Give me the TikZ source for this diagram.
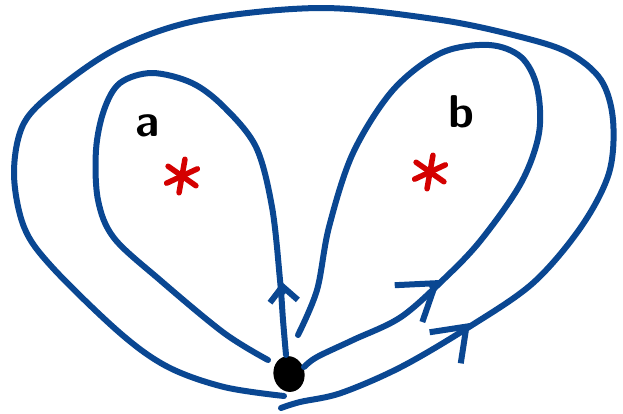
\documentclass[tikz,border=0pt]{standalone}
\usepackage{xcolor}
\usepackage{tikz}
\usetikzlibrary{arrows.meta,shapes.geometric}

\definecolor{loopblue}{HTML}{0A4792}
\definecolor{puncred}{HTML}{D40000}

\begin{document}
\begin{tikzpicture}[
  x=1pt, y=-1pt,
  loopline/.style={draw=loopblue, line width=6pt, line cap=round, line join=round},
  barb/.style n args={2}{loopline, -{Straight Barb[length=#1, width=#2]}},
  puncture/.style={inner sep=0pt, minimum size=2pt},
  letter/.style={font=\fontsize{46}{46}\selectfont\sffamily\bfseries, inner sep=0pt},
  basept/.style={ellipse, fill=black, inner sep=0pt, minimum width=31pt, minimum height=36pt, rotate=12}
]
  \useasboundingbox (0,0) rectangle (623,413);

  % Base point
  \node[basept] (o) at (289,374) {};

  % Punctures and their labels
  \node[puncture] (sa) at (182,176) {};
  \node[puncture] (sb) at (430,172) {};
  \node[letter] (la) at (148,126) {a};
  \node[letter] (lb) at (461,112) {b};
  \foreach \p in {sa,sb}
    \foreach \ang in {100,35,155}
      \draw[draw=puncred, line width=5.5pt, line cap=round]
        (\p) ++(\ang:17) -- ++(\ang+180:34);

  % Loop ends near the base point
  \coordinate (ls) at (286,355);
  \coordinate (le) at (268,360);
  \coordinate (rs) at (304,367);
  \coordinate (re) at (298,335);
  \coordinate (bs) at (281,408);
  \coordinate (be) at (284,396);

  % Loop around a
  \draw[loopline] plot[smooth, tension=0.55] coordinates {
    (ls) (283,320) (280,280) (272,207) (256,147) (224,107) (192,83) (152,73)
    (120,83) (104,110) (96,150) (98,200) (114,238) (160,280) (224,333) (le)};

  % Loop around b
  \draw[loopline] plot[smooth, tension=0.55] coordinates {
    (rs) (317,357) (353,340) (401,317) (445,278) (481,240) (521,183) (539,133)
    (537,87) (521,57) (489,45) (441,53) (393,90) (353,153) (329,227) (317,290) (re)};

  % Loop around both
  \draw[loopline] plot[smooth, tension=0.55] coordinates {
    (bs) (300,402) (341,393) (401,367) (469,327) (533,283) (581,227) (609,173)
    (613,120) (601,80) (569,53) (521,37) (441,20) (322,8) (200,20) (120,47)
    (60,87) (24,123) (14,173) (24,227) (52,267) (120,333) (168,367) (224,387) (be)};

  % Orientation
  \coordinate (ta) at (282,282);
  \coordinate (tb) at (440,280);
  \coordinate (tc) at (470,323);
  \draw[barb={15pt}{28pt}] (283,292) -- (ta);
  \draw[barb={34pt}{46pt}] (432,286) -- (tb);
  \draw[barb={30pt}{44pt}] (463,330) -- (tc);
\end{tikzpicture}
\end{document}
